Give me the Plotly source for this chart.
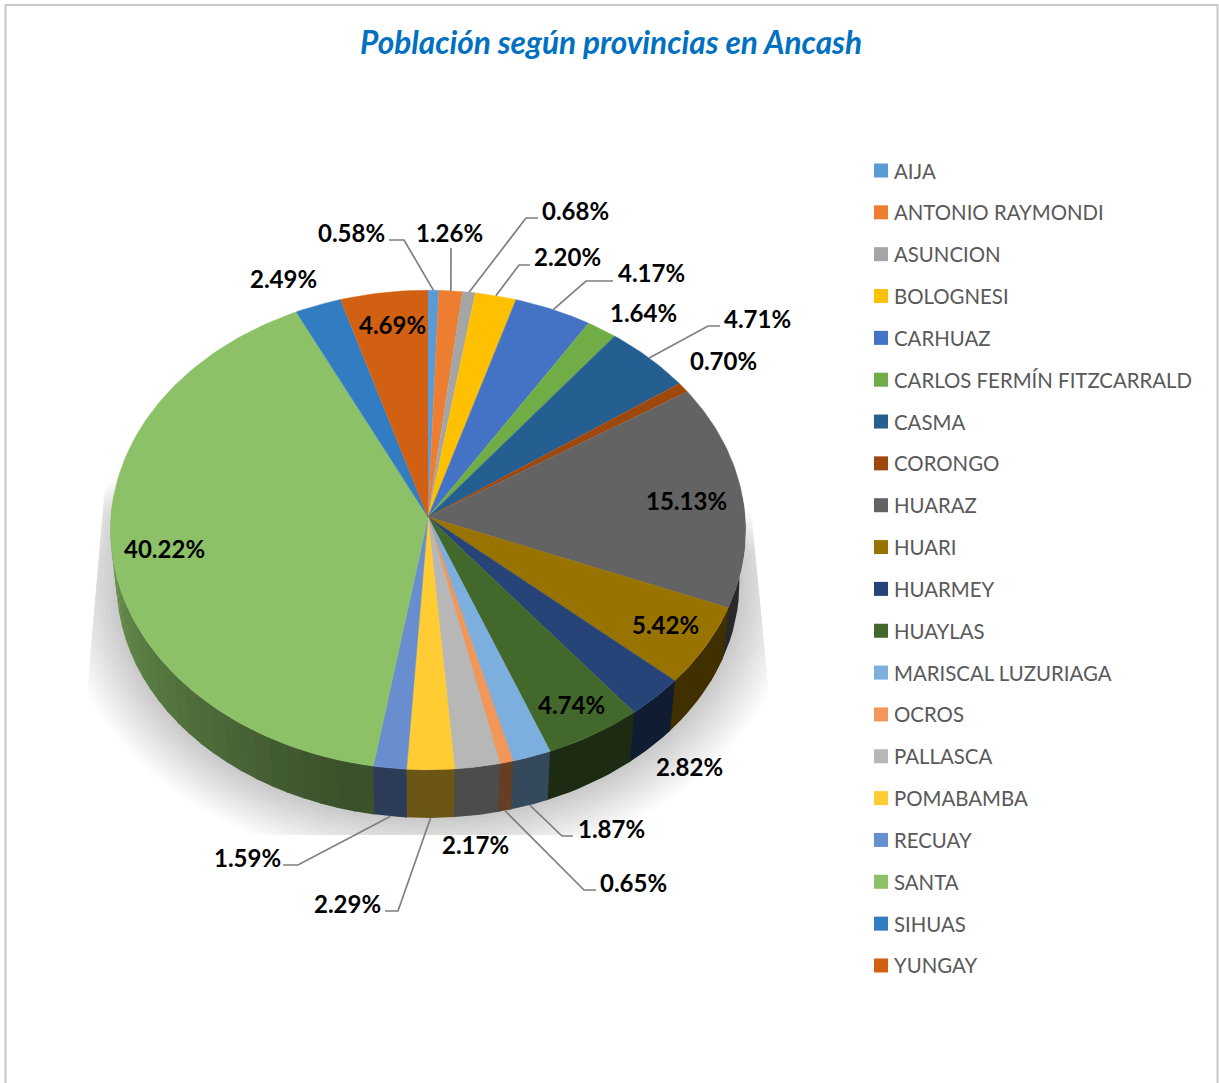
import numpy as np
import plotly.graph_objects as go

# ---- data ----
provinces = ["AIJA", "ANTONIO RAYMONDI", "ASUNCION", "BOLOGNESI", "CARHUAZ",
             "CARLOS FERMÍN FITZCARRALD", "CASMA", "CORONGO", "HUARAZ", "HUARI",
             "HUARMEY", "HUAYLAS", "MARISCAL LUZURIAGA", "OCROS", "PALLASCA",
             "POMABAMBA", "RECUAY", "SANTA", "SIHUAS", "YUNGAY"]
shares = [0.58, 1.26, 0.68, 2.20, 4.17, 1.64, 4.71, 0.70, 15.13, 5.42,
          2.82, 4.74, 1.87, 0.65, 2.17, 2.29, 1.59, 40.22, 2.49, 4.69]
title_text = "Población según provincias en Ancash"

# ---- styling ----
colors = ["#5B9BD5", "#ED7D31", "#A5A5A5", "#FFC000", "#4472C4", "#70AD47", "#255E91",
          "#9E480E", "#636363", "#997300", "#264478", "#43682B", "#7CAFDD", "#F1975A",
          "#B7B7B7", "#FFCD33", "#698ED0", "#8CC168", "#327DC2", "#D26012"]
label_pos = [(351, 232), (449, 232), (575, 210), (567, 256), (651, 272), (643, 312),
             (757, 318), (723, 360), (686, 500), (665, 624), (689, 766), (571, 704),
             (611, 828), (633, 882), (475, 844), (347, 903), (247, 857), (164, 548),
             (283, 278), (392, 324)]
# leader elbows: (start of line next to the label, elbow); slice index -> points
leaders = {0: [(389, 240), (404, 240)], 1: [(451, 248)], 2: [(538, 218), (526, 218)],
           3: [(530, 265), (519, 265)], 4: [(613, 281), (586, 281)], 6: [(720, 326), (708, 326)],
           12: [(573, 836), (562, 836)], 13: [(596, 890), (584, 890)],
           15: [(385, 911), (398, 911)], 16: [(283, 865), (298, 865)]}
FONT = "Lato"
W, H = 1219, 1083
CX, K = 428.0, 0.0542


def rim(theta_deg, b, a, y0):
    """Perspective projection of a circle point, clockwise from 12 o'clock."""
    t = np.radians(theta_deg)
    u, v = np.sin(t), np.cos(t)
    w = 1 + K * v
    return CX + b * u / w, y0 - a * v / w


def top_rim(t):
    return rim(t, 317.0, 239.0, 517.0)


def low_rim(t):
    return rim(t, 311.0, 234.5, 570.0)


def rgb(hexc, f=1.0):
    r, g, b = int(hexc[1:3], 16), int(hexc[3:5], 16), int(hexc[5:7], 16)
    return f"rgb({int(r*f)},{int(g*f)},{int(b*f)})"


def wall_shade(t):
    if t < 195:
        return 0.42
    return 0.42 + 0.34 * min((t - 195) / 70.0, 1.0)


fig = go.Figure()

# soft ground shadow
N = 14
for i in range(N):
    s = 1 - i / (N - 1)
    a = np.radians(np.linspace(0, 360, 241))
    rx, ry = 311 + 58 * s, 235 + 50 * s
    x = CX + rx * np.sin(a)
    y = 583 - ry * np.cos(a)
    xl = 108 + (y - 450) * (88 - 108) / (680 - 450)
    xr = 750 + (y - 500) * (768 - 750) / (680 - 500)
    xl = np.where(y > 680, 88, xl)
    xr = np.where(y > 680, 768, xr)
    top = 440 + 70 * s + np.where(x > CX, 40, 0)
    y = np.clip(y, top, 835)
    x = np.clip(x, xl, xr)
    fig.add_trace(go.Scatter(x=x, y=y, mode="lines", fill="toself",
                             fillcolor="rgba(40,40,40,0.021)", line=dict(width=0),
                             hoverinfo="skip", showlegend=False))

edges = 3.6 * np.concatenate([[0], np.cumsum(shares)]) * (100 / sum(shares))

# side wall (drawn right to left, every strip slightly overlapping the next)
for name, c, t0, t1 in zip(provinces, colors, edges[:-1], edges[1:]):
    a, b = max(t0, 85), min(t1, 275)
    if b <= a:
        continue
    n = max(1, int(np.ceil((b - max(a, 195)) / 3))) if b > 195 else 1
    for j in range(n):
        p, q = a + (b - a) * j / n, a + (b - a) * (j + 1) / n
        ts = np.linspace(p, min(q + 0.4, b + 0.4), 12)
        xa, ya = top_rim(ts)
        xb, yb = low_rim(ts[::-1])
        col = rgb(c, wall_shade((p + q) / 2))
        fig.add_trace(go.Scatter(x=np.r_[xa, xb], y=np.r_[ya, yb], mode="lines", fill="toself",
                                 fillcolor=col, line=dict(width=0),
                                 hoverinfo="skip", showlegend=False))

# top face
for name, val, c, t0, t1 in zip(provinces, shares, colors, edges[:-1], edges[1:]):
    ts = np.linspace(t0, t1, max(3, int(t1 - t0) + 2))
    xa, ya = top_rim(ts)
    fig.add_trace(go.Scatter(x=np.r_[CX, xa], y=np.r_[517.0, ya], mode="lines", fill="toself",
                             fillcolor=c, line=dict(color=c, width=0.5), name=name,
                             text=f"{name}: {val:.2f}%", hoverinfo="text", showlegend=False))

# leader lines
for idx, pts in leaders.items():
    mid = (edges[idx] + edges[idx + 1]) / 2
    ex, ey = low_rim(mid) if 90 < mid < 270 else top_rim(mid)
    xs = [p[0] for p in pts] + [float(ex)]
    ys = [p[1] for p in pts] + [float(ey)]
    fig.add_trace(go.Scatter(x=xs, y=ys, mode="lines", line=dict(color="#7F7F7F", width=1.7),
                             hoverinfo="skip", showlegend=False))

# value labels
for val, (lx, ly) in zip(shares, label_pos):
    fig.add_annotation(x=lx, y=ly, text=f"<b>{val:.2f}%</b>", showarrow=False,
                       font=dict(family=FONT, size=24, color="#000000"),
                       xanchor="center", yanchor="middle")

# legend column
leg_y = [170.5 + 41.84 * i for i in range(len(provinces))]
fig.add_trace(go.Scatter(x=[881] * len(provinces), y=leg_y, mode="markers",
                         marker=dict(symbol="square", size=14, color=colors, line=dict(width=0)),
                         text=provinces, hoverinfo="text", showlegend=False))
for name, ly in zip(provinces, leg_y):
    fig.add_annotation(x=891.5, y=ly, text=name, showarrow=False, xanchor="left", yanchor="middle",
                       font=dict(family=FONT, size=20.4, color="#595959"))

# outer frame
fig.add_shape(type="rect", x0=5.5, y0=5, x1=1217.5, y1=1090,
              line=dict(color="#C8C8C8", width=2), fillcolor="rgba(0,0,0,0)", layer="below")

fig.update_layout(
    width=W, height=H, margin=dict(l=0, r=0, t=0, b=0),
    paper_bgcolor="white", plot_bgcolor="white", showlegend=False,
    title=dict(text=f"<b><i>{title_text}</i></b>", x=611 / W, y=1 - 43 / H, xanchor="center",
               yanchor="middle", font=dict(family=FONT, size=31.6, color="#0070C0")),
    xaxis=dict(range=[0, W], visible=False, fixedrange=True),
    yaxis=dict(range=[H, 0], visible=False, fixedrange=True),
)
fig.write_html("out.html", config={"displayModeBar": False},
               post_script="document.body.style.margin='0';document.body.style.overflow='hidden';")
